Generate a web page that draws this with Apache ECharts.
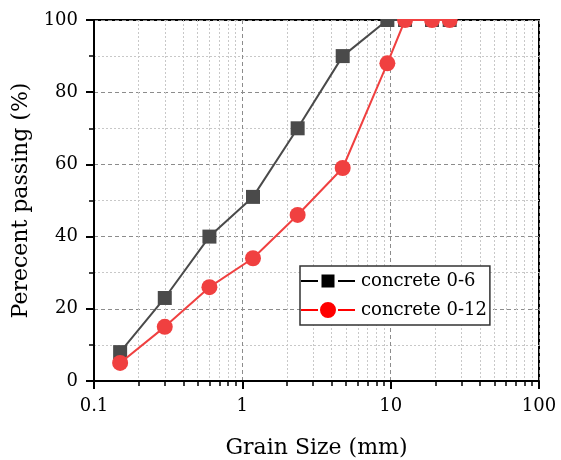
<!DOCTYPE html>
<html>
<head>
<meta charset="utf-8">
<script src="https://cdn.jsdelivr.net/npm/echarts@6/dist/echarts.min.js"></script>
<style>
  html, body { margin: 0; padding: 0; background: #fff; }
  #chart { width: 561px; height: 460px; }
</style>
</head>
<body>
<div id="chart"></div>
<script>
// Sieve sizes (mm) and cumulative percent passing for two concrete gradings
const grainSizes = [0.15, 0.3, 0.6, 1.18, 2.36, 4.75, 9.5, 12.5, 19, 25];
const concrete06 = [8, 23, 40, 51, 70, 90, 100, 100, 100, 100];
const concrete012 = [5, 15, 26, 34, 46, 59, 88, 100, 100, 100];

const seriesNames = ['concrete 0-6', 'concrete 0-12'];
const FONT = 'DejaVu Serif';

// legend keys: "— marker —" with small gaps either side of the marker
const ICON_SQUARE = 'path://M0,5.5H17V7.5H0Z M20.5,0H33.5V13H20.5Z M37,5.5H54V7.5H37Z';
const ICON_CIRCLE = 'path://M0,7H17V9H0Z M37,7H54V9H37Z M19,8A8,8,0,1,0,35,8A8,8,0,1,0,19,8Z';

const pairs = (xs, ys) => xs.map((x, i) => [x, ys[i]]);

const chart = echarts.init(document.getElementById('chart'), null, { renderer: 'canvas' });

const option = {
  animation: false,
  backgroundColor: '#fff',
  textStyle: { fontFamily: FONT, color: '#000' },
  grid: {
    left: 94, right: 22, top: 20, bottom: 79,
    outerBoundsMode: 'none',
    containLabel: false,
    show: true, borderColor: '#000', borderWidth: 2, backgroundColor: 'transparent'
  },
  xAxis: {
    type: 'log',
    logBase: 10,
    min: 0.1,
    max: 100,
    name: 'Grain Size (mm)',
    nameLocation: 'middle',
    nameGap: 56,
    nameTextStyle: { fontFamily: FONT, fontSize: 22, color: '#000' },
    axisLine: { show: true, onZero: false, lineStyle: { color: '#000', width: 2 } },
    axisTick: { show: true, inside: false, length: 8, lineStyle: { color: '#000', width: 2 } },
    minorTick: { show: true, splitNumber: 9, length: 5, lineStyle: { color: '#000', width: 1.5 } },
    axisLabel: { fontFamily: FONT, fontSize: 18, color: '#000', margin: 16 },
    splitLine: { show: true, lineStyle: { color: '#8c8c8c', width: 1, type: [4, 3] } },
    minorSplitLine: { show: true, lineStyle: { color: '#c8c8c8', width: 1, type: [2, 2] } }
  },
  yAxis: {
    type: 'value',
    min: 0,
    max: 100,
    interval: 20,
    name: 'Perecent passing (%)',
    nameLocation: 'middle',
    nameGap: 47,
    nameTextStyle: { fontFamily: FONT, fontSize: 22, color: '#000' },
    axisLine: { show: true, onZero: false, lineStyle: { color: '#000', width: 2 } },
    axisTick: { show: true, inside: false, length: 8, lineStyle: { color: '#000', width: 2 } },
    minorTick: { show: true, splitNumber: 2, length: 5, lineStyle: { color: '#000', width: 1.5 } },
    axisLabel: { fontFamily: FONT, fontSize: 18, color: '#000', margin: 16 },
    splitLine: { show: true, lineStyle: { color: '#8c8c8c', width: 1, type: [4, 3] } },
    minorSplitLine: { show: true, lineStyle: { color: '#c8c8c8', width: 1, type: [2, 2] } }
  },
  legend: {
    orient: 'vertical',
    left: 300,
    top: 266,
    padding: [6, 3, 6, 1],
    itemGap: 11,
    itemWidth: 54,
    itemHeight: 16,
    symbolKeepAspect: true,
    borderColor: '#333',
    borderWidth: 1.5,
    backgroundColor: '#fff',
    textStyle: { fontFamily: FONT, fontSize: 18, color: '#000', padding: [0, 0, 0, 1] },
    data: [
      { name: seriesNames[0], icon: ICON_SQUARE, itemStyle: { color: '#000', borderWidth: 0 } },
      { name: seriesNames[1], icon: ICON_CIRCLE, itemStyle: { color: '#ff0000', borderWidth: 0 } }
    ]
  },
  graphic: {
    elements: [
      {
        // white band above the plot frame so markers sitting at 100 % show only their lower half
        type: 'rect',
        z: 100,
        shape: { x: 95, y: 0, width: 466, height: 19 },
        style: { fill: '#ffffff' }
      }
    ]
  },
  series: [
    {
      name: seriesNames[0],
      type: 'line',
      data: pairs(grainSizes, concrete06),
      symbol: 'rect',
      symbolSize: 14,
      color: '#4a4a4a',
      lineStyle: { color: '#4a4a4a', width: 2 },
      itemStyle: { color: '#4a4a4a' },
      z: 2
    },
    {
      name: seriesNames[1],
      type: 'line',
      data: pairs(grainSizes, concrete012),
      symbol: 'circle',
      symbolSize: 16,
      color: '#f04040',
      lineStyle: { color: '#f04040', width: 2 },
      itemStyle: { color: '#f04040' },
      z: 3
    }
  ]
};

chart.setOption(option);
</script>
</body>
</html>
